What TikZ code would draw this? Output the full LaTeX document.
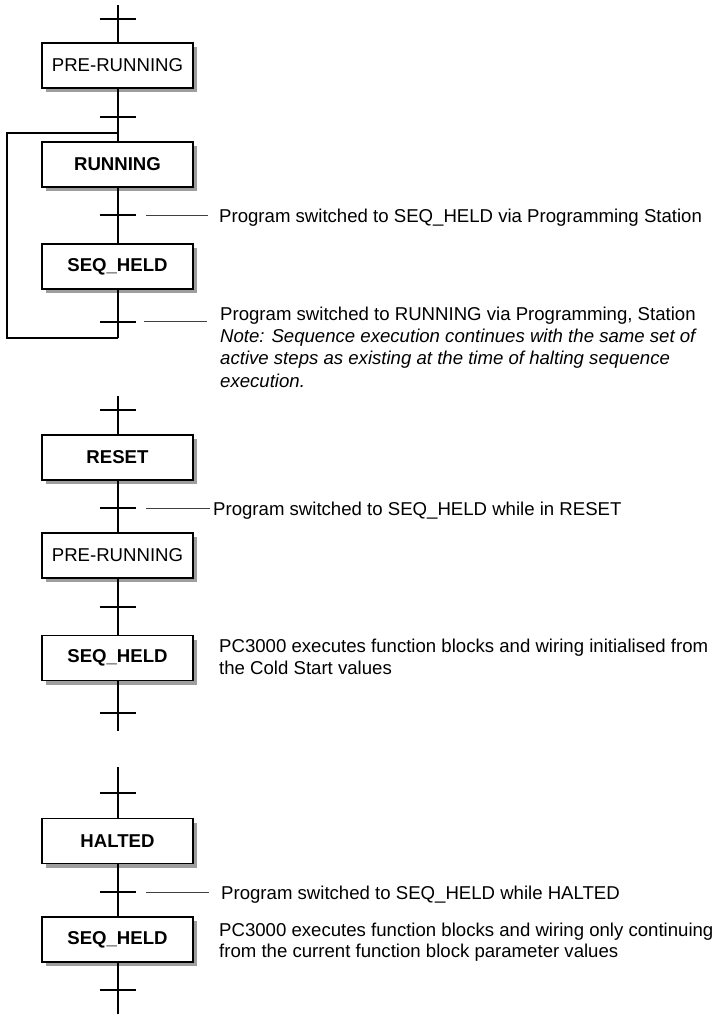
\documentclass[tikz,border=0pt]{standalone}
\usepackage{fontspec}
\setmainfont{Liberation Sans}
\usetikzlibrary{shadows,calc}
\tikzset{
  stepbox/.style={draw=black, line width=1.1pt, fill=white, minimum width=151pt, minimum height=45pt, inner sep=0pt,
    font=\fontsize{18.6}{22}\selectfont,
    drop shadow={shadow xshift=4pt, shadow yshift=-4pt, fill=black!38, opacity=1}},
  boldbox/.style={stepbox, font=\fontsize{18.6}{22}\selectfont\bfseries},
  stem/.style={line width=2pt, line cap=butt},
  bar/.style={line width=2pt},
  leader/.style={line width=0.6pt, draw=black!75},
  lab/.style={anchor=base west, inner sep=0pt, align=left, font=\fontsize{18.6}{22}\selectfont},
}
\newcommand{\crossbar}[1]{\draw[bar] ($(#1)+(-18,0)$) -- ($(#1)+(18,0)$);}
\begin{document}
\begin{tikzpicture}[x=1pt,y=-1pt]
\useasboundingbox (0,0) rectangle (717,1014);
% ---------- section 1 ----------
\node[stepbox] (pr1) at (117.5,65.5) {PRE-RUNNING};
\node[boldbox] (run) at (117.5,164.5) {RUNNING};
\node[boldbox] (sh1) at (117.5,266.5) {SEQ\_HELD};
\coordinate (s1top) at (117.5,5);
\coordinate (s1end) at (117.5,338);
\coordinate (t1) at (117.5,19);
\coordinate (t2) at (117.5,117);
\coordinate (t3) at (117.5,215);
\coordinate (t4) at (117.5,322);
\coordinate (jtop) at (117.5,133);
\coordinate (ltl) at (7,133);
\coordinate (lbl) at (7,338);
\draw[stem] (s1top) -- (pr1.north);
\draw[stem] (pr1.south) -- (run.north);
\draw[stem] (run.south) -- (sh1.north);
\draw[stem] (sh1.south) -- (s1end);
\draw[stem, line join=miter] (jtop) -- (ltl) -- (lbl) -- (s1end);
\crossbar{t1}\crossbar{t2}\crossbar{t3}\crossbar{t4}
\node[lab] (l1) at (219,222) {Program switched to SEQ\_HELD via Programming Station};
\coordinate (e1a) at (146,215); \coordinate (e1b) at (208,215);
\draw[leader] (e1a) -- (e1b);
\node[lab, font=\fontsize{18.6}{22.3}\selectfont] (l2) at (220,387) {Program switched to RUNNING via Programming, Station\\
\itshape Note: Sequence execution continues with the same set of\\
\itshape active steps as existing at the time of halting sequence\\
\itshape execution.};
\coordinate (e2a) at (144,321); \coordinate (e2b) at (207,321);
\draw[leader] (e2a) -- (e2b);
% ---------- section 2 ----------
\node[boldbox] (rst) at (117.5,457.5) {RESET};
\node[stepbox] (pr2) at (117.5,555.5) {PRE-RUNNING};
\node[boldbox] (sh2) at (117.5,658) {SEQ\_HELD};
\coordinate (s2top) at (117.5,396);
\coordinate (s2end) at (117.5,731);
\coordinate (t5) at (117.5,410);
\coordinate (t6) at (117.5,508);
\coordinate (t7) at (117.5,607);
\coordinate (t8) at (117.5,713);
\draw[stem] (s2top) -- (rst.north);
\draw[stem] (rst.south) -- (pr2.north);
\draw[stem] (pr2.south) -- (sh2.north);
\draw[stem] (sh2.south) -- (s2end);
\crossbar{t5}\crossbar{t6}\crossbar{t7}\crossbar{t8}
\node[lab] (l3) at (213,515) {Program switched to SEQ\_HELD while in RESET};
\coordinate (e3a) at (146,508); \coordinate (e3b) at (210,508);
\draw[leader] (e3a) -- (e3b);
\node[lab] (l4) at (219,674) {PC3000 executes function blocks and wiring initialised from\\the Cold Start values};
% ---------- section 3 ----------
\node[boldbox] (hlt) at (117.5,841) {HALTED};
\node[boldbox] (sh3) at (117.5,939.5) {SEQ\_HELD};
\coordinate (s3top) at (117.5,767);
\coordinate (s3end) at (117.5,1014);
\coordinate (t9) at (117.5,793);
\coordinate (t10) at (117.5,892);
\coordinate (t11) at (117.5,990);
\draw[stem] (s3top) -- (hlt.north);
\draw[stem] (hlt.south) -- (sh3.north);
\draw[stem] (sh3.south) -- (s3end);
\crossbar{t9}\crossbar{t10}\crossbar{t11}
\node[lab] (l5) at (221,899) {Program switched to SEQ\_HELD while HALTED};
\coordinate (e5a) at (146,892); \coordinate (e5b) at (209,892);
\draw[leader] (e5a) -- (e5b);
\node[lab, font=\fontsize{18.6}{21}\selectfont] (l6) at (219,957) {PC3000 executes function blocks and wiring only continuing\\from the current function block parameter values};
\end{tikzpicture}
\end{document}
